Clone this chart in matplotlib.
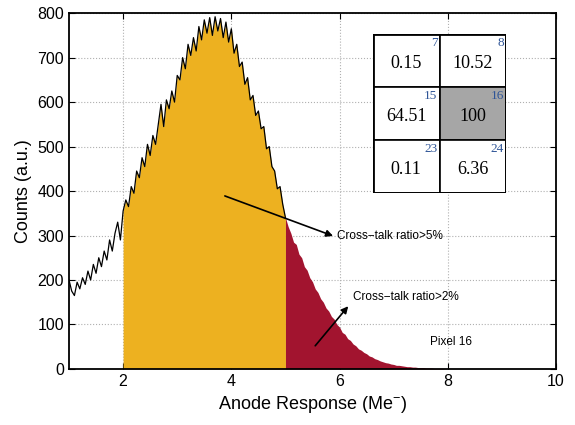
import numpy as np
import matplotlib
matplotlib.use("Agg")
import matplotlib.pyplot as plt
from matplotlib.patches import Rectangle

plt.rcParams['font.family'] = ['Liberation Sans', 'DejaVu Sans']
plt.rcParams['mathtext.fontset'] = 'custom'
plt.rcParams['mathtext.rm'] = 'Liberation Sans'
plt.rcParams['mathtext.it'] = 'Liberation Sans'

# histogram of anode response, bins of 0.05 Me- starting at 1.0
bin_start = 1.0
bin_width = 0.05
counts = [200, 175, 165, 195, 180, 205, 190, 220, 200, 235,
          215, 250, 230, 265, 245, 290, 265, 305, 330, 290,
          355,
          380, 365, 410, 395, 445, 430, 475, 455, 505, 480,
          525, 505, 550, 595, 545, 605, 585, 625, 600, 660,
          650, 700, 675, 730, 705, 745, 715, 770, 740, 785,
          755, 790, 750, 792, 760, 788, 745, 780, 735, 765,
          710, 730, 680, 690, 640, 655, 605, 615, 570, 580,
          540, 545, 495, 500, 455, 445, 405, 410, 370, 340,
          320, 305, 285, 280, 258, 250, 230, 222, 205, 196,
          180, 172, 158, 150, 137, 130, 118, 112, 100, 94,
          82, 78, 68, 64, 56, 52, 45, 42, 37, 34,
          29, 27, 23, 21, 18, 16, 14, 13, 11, 10,
          8, 8, 7, 6, 5, 5, 4, 4, 3, 3,
          3, 2, 2, 2, 1, 1, 1, 1, 0, 0,
          0, 0]

cut_low = 2.0    # start of the >5% region
cut_high = 5.0   # start of the >2% region

# crosstalk map (percent of pixel 16)
pixel_ids = [[7, 8], [15, 16], [23, 24]]
ratios = [["0.15", "10.52"], ["64.51", "100"], ["0.11", "6.36"]]
center_pixel = 16

yellow = "#EDB120"
red = "#A2142F"

x = bin_start + bin_width * np.arange(len(counts))
y = np.array(counts, dtype=float)

fig = plt.figure(figsize=(5.75, 4.25), dpi=100)
ax = fig.add_axes([0.12, 0.132, 0.847, 0.837])

m1 = (x >= cut_low - 1e-9) & (x <= cut_high + 1e-9)
m2 = x >= cut_high - 1e-9
ax.fill_between(x[m1], 0, y[m1], color=yellow, lw=0, zorder=2)
ax.fill_between(x[m2], 0, y[m2], color=red, lw=0, zorder=2)
m0 = x <= cut_high + 1e-9
ax.plot(x[m0], y[m0], color="k", lw=0.9, zorder=3)

ax.set_xlim(1, 10)
ax.set_ylim(0, 800)
ax.set_xticks([2, 4, 6, 8, 10])
ax.set_yticks(np.arange(0, 801, 100))
ax.grid(True, linestyle=":", color="#b0b0b0", lw=0.8)
ax.set_axisbelow(True)
ax.tick_params(direction="in", top=True, right=True, labelsize=11.5, length=4)
for s in ax.spines.values():
    s.set_linewidth(1.3)
ax.set_xlabel(r"Anode Response (Me$^{-}$)", fontsize=13)
ax.set_ylabel("Counts (a.u.)", fontsize=13)

arrow = dict(arrowstyle="-|>", color="k", lw=1.2, mutation_scale=10, shrinkA=0, shrinkB=0)
ax.annotate("", xy=(5.88, 299), xytext=(3.88, 389), arrowprops=arrow, zorder=5)
ax.text(5.95, 300, "Cross\u2212talk ratio>5%", fontsize=8.5, va="center", ha="left")
ax.annotate("", xy=(6.16, 141), xytext=(5.55, 52), arrowprops=arrow, zorder=5)
ax.text(6.24, 161, "Cross\u2212talk ratio>2%", fontsize=8.5, va="center", ha="left")
ax.text(7.67, 61, "Pixel 16", fontsize=8.5, va="center", ha="left")

# inset map of neighbouring pixels
tab = fig.add_axes([373 / 575, 1 - 193 / 425, 133 / 575, 159 / 425])
tab.set_xlim(0, 2)
tab.set_ylim(0, 3)
tab.axis("off")
for r in range(3):
    for c in range(2):
        yy = 2 - r
        fc = "#a6a6a6" if pixel_ids[r][c] == center_pixel else "white"
        tab.add_patch(Rectangle((c, yy), 1, 1, facecolor=fc, edgecolor="k", lw=1.2))
        tab.text(c + 0.5, yy + 0.44, ratios[r][c], ha="center", va="center",
                 fontsize=13, family="Liberation Serif")
        tab.text(c + 0.97, yy + 0.95, str(pixel_ids[r][c]), ha="right", va="top",
                 fontsize=9.5, color="#2f5597", family="Liberation Serif")
tab.add_patch(Rectangle((0, 0), 2, 3, facecolor="none", edgecolor="k", lw=2))

fig.savefig("out.png", dpi=100)
